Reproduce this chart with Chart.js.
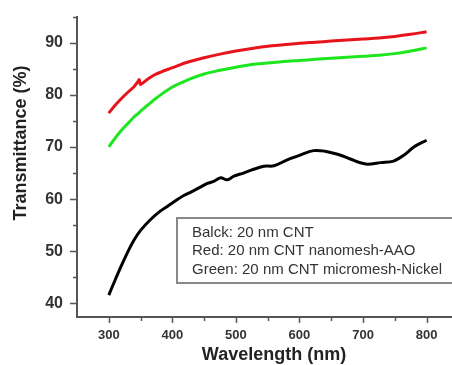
<!DOCTYPE html>
<html>
<head>
<meta charset="utf-8">
<script src="https://cdn.jsdelivr.net/npm/chart.js@4.4.1/dist/chart.umd.min.js"></script>
<style>
  html, body { margin: 0; padding: 0; background: #fff; }
</style>
</head>
<body>
<canvas id="chart" width="452" height="365"></canvas>
<script>
// wavelengths (nm) shared by the red and green curves
var wavelengths = [300, 310, 320, 330, 340, 345, 348, 350, 360, 375, 400, 425, 450, 475, 500,
                   525, 550, 575, 600, 625, 650, 675, 700, 725, 750, 775, 800];
var redValues = [76.5, 78.0, 79.3, 80.5, 81.6, 82.4, 82.9, 82.0, 82.9, 84.0, 85.2, 86.3, 87.1, 87.8, 88.4,
                 88.9, 89.3, 89.6, 89.9, 90.1, 90.3, 90.5, 90.7, 90.9, 91.2, 91.6, 92.1];
var greenValues = [70.0, 71.7, 73.2, 74.5, 75.8, 76.3, 76.6, 76.9, 77.9, 79.4, 81.5, 82.9, 84.0, 84.7, 85.3,
                   85.8, 86.1, 86.4, 86.6, 86.8, 87.0, 87.2, 87.4, 87.6, 87.9, 88.4, 89.0];

// black curve is sampled more finely (it wiggles)
var blackWavelengths = [300, 310, 320, 330, 340, 350, 365, 380, 392, 405, 418, 430, 444, 455, 465,
                        476, 486, 497, 512, 525, 544, 560, 580, 600, 622, 640, 660, 680, 695, 707,
                        728, 748, 764, 780, 800];
var blackValues = [41.6, 44.5, 47.3, 49.9, 52.2, 54.0, 56.0, 57.6, 58.6, 59.7, 60.7, 61.4, 62.3, 63.0, 63.4,
                   64.1, 63.7, 64.4, 65.0, 65.6, 66.3, 66.4, 67.5, 68.4, 69.3, 69.2, 68.6, 67.7, 67.0, 66.7,
                   67.0, 67.3, 68.4, 70.0, 71.3];

var labels = ['Balck: 20 nm CNT', 'Red: 20 nm CNT nanomesh-AAO', 'Green: 20 nm CNT micromesh-Nickel'];

var xTicks = [300, 350, 400, 450, 500, 550, 600, 650, 700, 750, 800];
var yTicks = [40, 45, 50, 55, 60, 65, 70, 75, 80, 85, 90, 95];

var FONT = 'Arial, "Liberation Sans", sans-serif';

function toPoints(xs, ys) {
    return xs.map(function(x, i) { return { x: x, y: ys[i] }; });
}

var extras = {
    id: 'extras',
    afterDraw: function(chart) {
        var ctx = chart.ctx, area = chart.chartArea;
        var xs = chart.scales.x, ys = chart.scales.y;
        ctx.save();

        // tick marks, major longer than minor
        ctx.strokeStyle = '#555';
        ctx.lineWidth = 1.5;
        ctx.beginPath();
        xTicks.forEach(function(v) {
            var px = Math.round(xs.getPixelForValue(v)) + 0.5;
            var len = v % 100 === 0 ? 6 : 4;
            ctx.moveTo(px, area.bottom);
            ctx.lineTo(px, area.bottom + len);
        });
        yTicks.forEach(function(v) {
            var py = Math.round(ys.getPixelForValue(v)) + 0.5;
            var len = v % 10 === 0 ? 7 : 4;
            ctx.moveTo(area.left, py);
            ctx.lineTo(area.left - len, py);
        });
        ctx.stroke();

        // axis titles
        ctx.fillStyle = '#222';
        ctx.font = 'bold 18px ' + FONT;
        ctx.textAlign = 'center';
        ctx.textBaseline = 'middle';
        ctx.fillText('Wavelength (nm)', 274, 355);
        ctx.save();
        ctx.translate(21, 143);
        ctx.rotate(-Math.PI / 2);
        ctx.fillText('Transmittance (%)', 0, 0);
        ctx.restore();

        // legend box
        ctx.fillStyle = '#fff';
        ctx.fillRect(177, 218, 290, 65);
        ctx.strokeStyle = '#888';
        ctx.lineWidth = 2;
        ctx.strokeRect(177, 218, 290, 65);
        ctx.fillStyle = '#333';
        ctx.font = '15px ' + FONT;
        ctx.textAlign = 'left';
        chart.data.datasets.forEach(function(ds, i) {
            ctx.fillText(ds.label, 192, 232.5 + i * 18.5);
        });

        ctx.restore();
    }
};

var ctx = document.getElementById('chart').getContext('2d');
var chart = new Chart(ctx, {
    type: 'line',
    data: {
        datasets: [
            {
                label: labels[0],
                data: toPoints(blackWavelengths, blackValues),
                borderColor: '#000',
                borderWidth: 3
            },
            {
                label: labels[1],
                data: toPoints(wavelengths, redValues),
                borderColor: '#e8141c',
                borderWidth: 3
            },
            {
                label: labels[2],
                data: toPoints(wavelengths, greenValues),
                borderColor: '#1ee61e',
                borderWidth: 3
            }
        ]
    },
    options: {
        responsive: false,
        animation: false,
        layout: { padding: { top: 11, right: 0, left: 0, bottom: 0 } },
        elements: {
            point: { radius: 0 },
            line: { tension: 0.35 }
        },
        plugins: {
            legend: { display: false },
            tooltip: { enabled: false }
        },
        scales: {
            x: {
                type: 'linear',
                min: 250,
                max: 840,
                afterBuildTicks: function(axis) {
                    axis.ticks = xTicks.map(function(v) { return { value: v }; });
                },
                afterFit: function(axis) { axis.height = 48; },
                border: { display: true, color: '#555', width: 2 },
                grid: { display: true, drawOnChartArea: false, drawTicks: true, tickLength: 6, color: 'rgba(0,0,0,0)' },
                ticks: {
                    autoSkip: false,
                    maxRotation: 0,
                    padding: 5,
                    color: '#333',
                    font: { family: FONT, size: 13, weight: 'bold' },
                    callback: function(v) { return v % 100 === 0 ? String(v) : ''; }
                }
            },
            y: {
                type: 'linear',
                min: 37.4,
                max: 95,
                afterBuildTicks: function(axis) {
                    axis.ticks = yTicks.map(function(v) { return { value: v }; });
                },
                afterFit: function(axis) { axis.width = 77; },
                border: { display: true, color: '#555', width: 2 },
                grid: { display: true, drawOnChartArea: false, drawTicks: true, tickLength: 7, color: 'rgba(0,0,0,0)' },
                ticks: {
                    autoSkip: false,
                    padding: 7,
                    color: '#333',
                    font: { family: FONT, size: 16, weight: 'bold' },
                    callback: function(v) { return v % 10 === 0 ? String(v) : ''; }
                }
            }
        }
    },
    plugins: [extras]
});
</script>
</body>
</html>
